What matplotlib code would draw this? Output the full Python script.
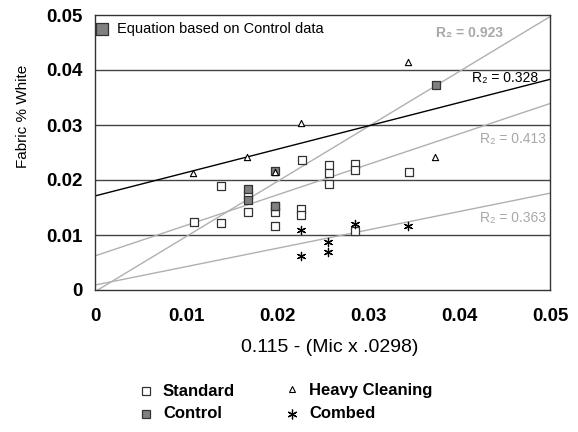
import matplotlib
matplotlib.use("Agg")
import matplotlib.pyplot as plt
import numpy as np
from matplotlib.lines import Line2D

plt.rcParams['font.family'] = ['Liberation Sans', 'DejaVu Sans']

# Data
std_x = [0.0109, 0.0138, 0.0138, 0.0168, 0.0168, 0.0198, 0.0198, 0.0198, 0.0228, 0.0226, 0.0226,
         0.0257, 0.0257, 0.0257, 0.0286, 0.0286, 0.0286, 0.0345]
std_y = [0.0124, 0.0122, 0.0190, 0.0142, 0.0172, 0.0141, 0.0116, 0.0153, 0.0236, 0.0148, 0.0136,
         0.0227, 0.0213, 0.0193, 0.0229, 0.0218, 0.0108, 0.0215]
ctrl_x = [0.0168, 0.0168, 0.0198, 0.0198, 0.0375]
ctrl_y = [0.0183, 0.0164, 0.0217, 0.0153, 0.0373]
heavy_x = [0.0108, 0.0167, 0.0198, 0.0226, 0.0344, 0.0374]
heavy_y = [0.0212, 0.0242, 0.0215, 0.0303, 0.0415, 0.0241]
comb_x = [0.0226, 0.0226, 0.0256, 0.0256, 0.0286, 0.0344]
comb_y = [0.0110, 0.0061, 0.0088, 0.0069, 0.0120, 0.0117]

# Trend lines (intercept, slope) and R^2 labels
trend_names = ['Control', 'Heavy Cleaning', 'Standard', 'Combed']
trend_intercept = [-0.0003, 0.0171, 0.0062, 0.0009]
trend_slope = [1.0, 0.424, 0.554, 0.334]
trend_r2 = ['0.923', '0.328', '0.413', '0.363']

x_ticks = [0, 0.01, 0.02, 0.03, 0.04, 0.05]
y_ticks = [0, 0.01, 0.02, 0.03, 0.04, 0.05]
tick_labels = ['0', '0.01', '0.02', '0.03', '0.04', '0.05']

W, H = 578, 432
fig = plt.figure(figsize=(W/100, H/100), dpi=100)
ax = fig.add_axes([95/W, 1-290/H, 455/W, 275/H])
ax.set_xlim(0, 0.05)
ax.set_ylim(0, 0.05)

def px2fig(x, y):
    return x / W, 1 - y / H

for yv in y_ticks[1:-1]:
    ax.axhline(yv, color='#444444', lw=1.0, zorder=1)

line_colors = ['#b0b0b0', 'black', '#b0b0b0', '#b0b0b0']
xs = np.array([0, 0.05])
for b0, b1, c in zip(trend_intercept, trend_slope, line_colors):
    ax.plot(xs, b0 + b1*xs, color=c, lw=1.0, zorder=2)

ax.scatter(std_x, std_y, marker='s', s=32, facecolor='white', edgecolor='#333333', linewidths=0.9, zorder=3)
ax.scatter(ctrl_x, ctrl_y, marker='s', s=32, facecolor='#808080', edgecolor='#333333', linewidths=0.9, zorder=4)
ax.scatter(heavy_x, heavy_y, marker='^', s=20, facecolor='white', edgecolor='black', linewidths=0.8, zorder=5)
ax.scatter(comb_x, comb_y, marker=(6, 2, 0), s=35, color='black', linewidths=0.9, zorder=5)

# R2 labels
lbl_pos = [(0.04484, 0.04673), (0.04868, 0.03855), (0.04956, 0.02745), (0.04960, 0.01309)]
lbl_col = ['#a8a8a8', 'black', '#a8a8a8', '#a8a8a8']
lbl_w = ['bold', 'normal', 'normal', 'normal']
for (px, py), c, w, r in zip(lbl_pos, lbl_col, lbl_w, trend_r2):
    ax.text(px, py, 'R\u2082 = ' + r, color=c, fontsize=10, fontweight=w, ha='right', va='center', zorder=6)

# top-left legend box
ax.scatter([0.00073], [0.0474], marker='s', s=70, facecolor='#808080', edgecolor='#333333', linewidths=0.9,
           zorder=6, clip_on=False)
ax.text(0.00238, 0.0474, 'Equation based on Control data', fontsize=10.5, va='center', ha='left')

ax.set_xticks(x_ticks)
ax.set_yticks(y_ticks)
ax.set_xticklabels(tick_labels, fontweight='bold', fontsize=13.5)
ax.set_yticklabels(tick_labels, fontweight='bold', fontsize=13.5)
ax.tick_params(axis='x', length=0, pad=13)
ax.tick_params(axis='y', length=0, pad=9)
for s in ax.spines.values():
    s.set_color('#333333')
    s.set_linewidth(1.0)

# axis titles
fx, fy = px2fig(330, 348)
fig.text(fx, fy, '0.115 - (Mic x .0298)', fontsize=14, ha='center', va='center')
fx, fy = px2fig(23, 116)
fig.text(fx, fy, 'Fabric % White', fontsize=11, ha='center', va='center', rotation=90)

# bottom legend, placed in pixel coordinates
leg_labels = ['Standard', 'Heavy Cleaning', 'Control', 'Combed']
leg_marker_xy = [(146, 391), (292, 389), (146, 414), (292, 414)]
leg_text_xy = [(163, 391), (309, 391), (163, 414), (309, 414)]
leg_styles = [
    dict(marker='s', markersize=6, markerfacecolor='white', markeredgecolor='#333333', markeredgewidth=0.9),
    dict(marker='^', markersize=5, markerfacecolor='white', markeredgecolor='black', markeredgewidth=0.8),
    dict(marker='s', markersize=6, markerfacecolor='#808080', markeredgecolor='#333333', markeredgewidth=0.9),
    dict(marker=(6, 2, 0), markersize=7, color='black', markeredgewidth=0.9),
]
for lab, (mx, my), (tx, ty), st in zip(leg_labels, leg_marker_xy, leg_text_xy, leg_styles):
    fx, fy = px2fig(mx, my)
    fig.add_artist(Line2D([fx], [fy], transform=fig.transFigure, ls='none', **st))
    gx, gy = px2fig(tx, ty)
    fig.text(gx, gy, lab, fontsize=12, fontweight='bold', va='center', ha='left')

fig.savefig('out.png', dpi=100)
